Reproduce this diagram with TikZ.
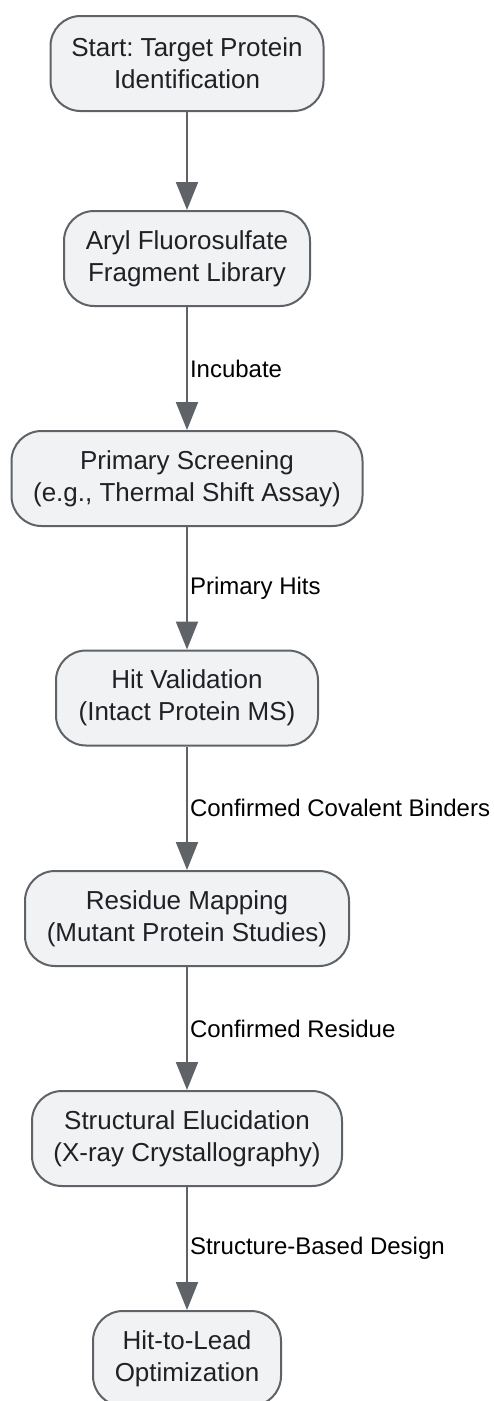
\documentclass[tikz,border=0pt]{standalone}
\usepackage{fontspec}
\setmainfont{Liberation Sans}
\usetikzlibrary{arrows.meta}
\definecolor{boxfill}{HTML}{F1F2F4}
\definecolor{edgegray}{HTML}{5F6368}
\definecolor{txt}{HTML}{202124}
\frenchspacing
\begin{document}
\begin{tikzpicture}[x=1pt,y=-1pt,
  stepbox/.style={draw=edgegray, fill=boxfill, line width=2pt, rounded corners=30pt,
    minimum height=95pt, align=center, text=txt, inner sep=0pt,
    font=\fontsize{26}{32}\selectfont},
  flow/.style={draw=edgegray, line width=2pt, -{Triangle[length=28pt,width=22pt]}},
  lbl/.style={font=\fontsize{24}{28}\selectfont, anchor=west, inner sep=0pt, text=black}]
\useasboundingbox (0,0) rectangle (494,1401);
\node[stepbox, minimum width=273pt] (n1) at (187,63.5) {Start: Target Protein\\Identification};
\node[stepbox, minimum width=246pt] (n2) at (187,258.5) {Aryl Fluorosulfate\\Fragment Library};
\node[stepbox, minimum width=351pt] (n3) at (187,478.5) {Primary Screening\\(e.g., Thermal Shift Assay)};
\node[stepbox, minimum width=262pt] (n4) at (187,698) {Hit Validation\\(Intact Protein MS)};
\node[stepbox, minimum width=324pt] (n5) at (187,918.5) {Residue Mapping\\(Mutant Protein Studies)};
\node[stepbox, minimum width=310pt] (n6) at (187,1138.5) {Structural Elucidation\\(X-ray Crystallography)};
\node[stepbox, minimum width=188pt] (n7) at (187,1358.5) {Hit-to-Lead\\Optimization};
\draw[flow] (n1) -- (n2);
\draw[flow] (n2) -- node[lbl, pos=0.5, xshift=2pt] {Incubate} (n3);
\draw[flow] (n3) -- node[lbl, pos=0.5, xshift=2pt] {Primary Hits} (n4);
\draw[flow] (n4) -- node[lbl, pos=0.5, xshift=2pt] {Confirmed Covalent Binders} (n5);
\draw[flow] (n5) -- node[lbl, pos=0.5, xshift=2pt] {Confirmed Residue} (n6);
\draw[flow] (n6) -- node[lbl, pos=0.5, xshift=2pt] {Structure-Based Design} (n7);
\end{tikzpicture}
\end{document}
